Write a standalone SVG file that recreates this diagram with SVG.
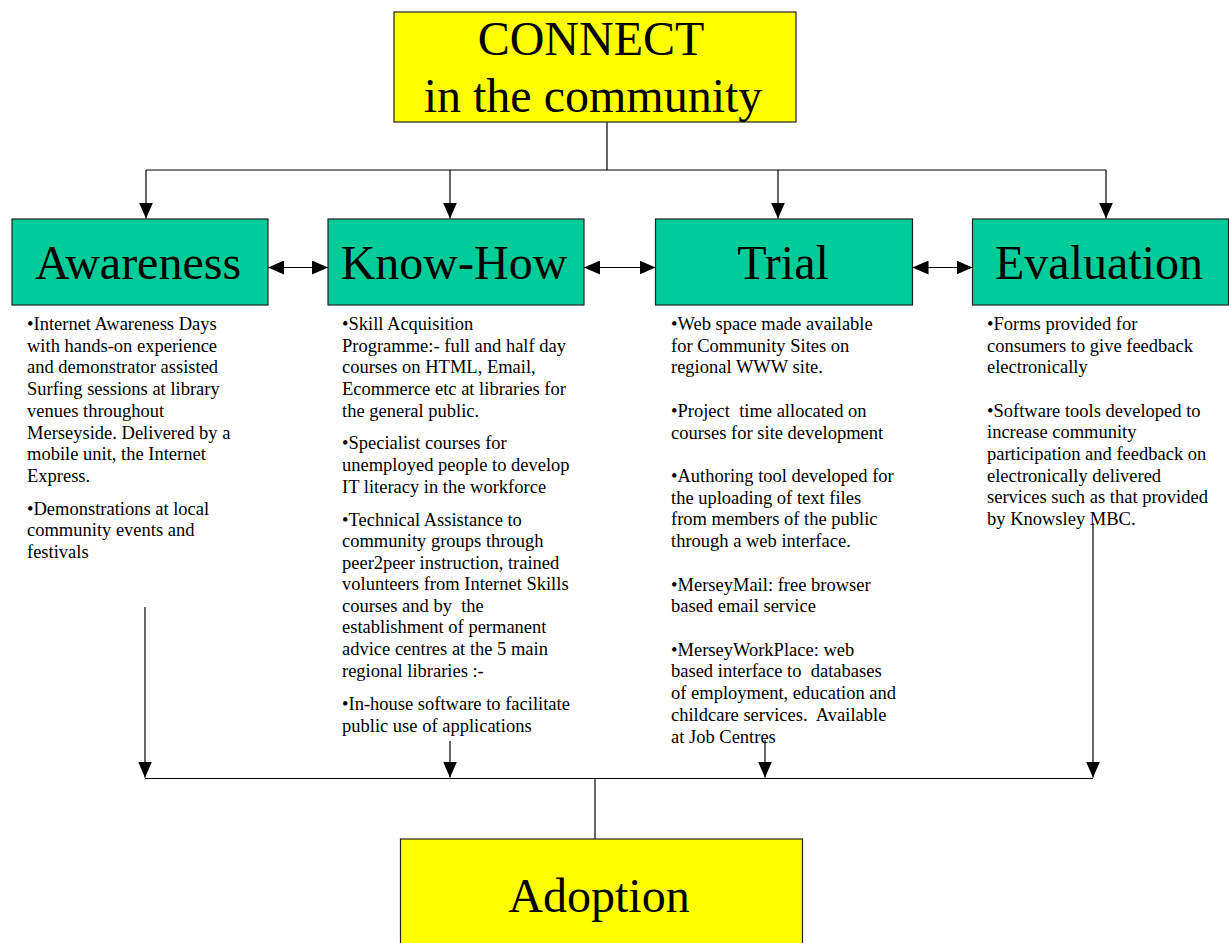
<svg xmlns="http://www.w3.org/2000/svg" width="1229" height="943" viewBox="0 0 1229 943">
<style>
.yel{fill:#FFFF00;stroke:#222;stroke-width:1.2}
.grn{fill:#00CC99;stroke:#222;stroke-width:1.2}
.big{font-family:"Liberation Serif","Times New Roman",serif;font-size:48px;fill:#000;text-anchor:middle}
.body{font-family:"Liberation Serif","Times New Roman",serif;font-size:18.5px;fill:#000;white-space:pre}
.ln{stroke:#000;stroke-width:1.2;fill:none}
</style>
<defs>
<marker id="ah" markerUnits="userSpaceOnUse" markerWidth="16" markerHeight="14" refX="16" refY="7" orient="auto-start-reverse">
<path d="M0,0 L16,7 L0,14 z" fill="#000"/>
</marker>
</defs>
<g id="connectors">
<line class="ln" x1="607" y1="122" x2="607" y2="170"/>
<line class="ln" x1="146" y1="170" x2="1106" y2="170"/>
<line class="ln" x1="146" y1="170" x2="146" y2="218.5" marker-end="url(#ah)"/>
<line class="ln" x1="450" y1="170" x2="450" y2="218.5" marker-end="url(#ah)"/>
<line class="ln" x1="778" y1="170" x2="778" y2="218.5" marker-end="url(#ah)"/>
<line class="ln" x1="1106" y1="170" x2="1106" y2="218.5" marker-end="url(#ah)"/>
<line class="ln" x1="268" y1="267.5" x2="328" y2="267.5" marker-start="url(#ah)" marker-end="url(#ah)"/>
<line class="ln" x1="584" y1="267.5" x2="655.5" y2="267.5" marker-start="url(#ah)" marker-end="url(#ah)"/>
<line class="ln" x1="912.5" y1="267.5" x2="972.5" y2="267.5" marker-start="url(#ah)" marker-end="url(#ah)"/>
<line class="ln" x1="145" y1="607" x2="145" y2="777.5" marker-end="url(#ah)"/>
<line class="ln" x1="450" y1="741" x2="450" y2="777.5" marker-end="url(#ah)"/>
<line class="ln" x1="765" y1="740" x2="765" y2="777.5" marker-end="url(#ah)"/>
<line class="ln" x1="1093" y1="523" x2="1093" y2="777.5" marker-end="url(#ah)"/>
<line class="ln" x1="145" y1="778.5" x2="1093" y2="778.5"/>
<line class="ln" x1="595" y1="778.5" x2="595" y2="839"/>
</g>
<g id="connect">
<rect class="yel" x="394" y="12" width="402" height="110"/>
<text class="big" x="591" y="55">CONNECT</text>
<text class="big" x="593" y="112">in the community</text>
</g>
<g id="awareness">
<rect class="grn" x="12" y="219" width="256" height="86"/>
<text class="big" x="138" y="279">Awareness</text>
<text class="body" x="27"><tspan x="27" y="330">•Internet Awareness Days</tspan><tspan x="27" y="351.7">with hands-on experience</tspan><tspan x="27" y="373.3">and demonstrator assisted</tspan><tspan x="27" y="395">Surfing sessions at library</tspan><tspan x="27" y="416.7">venues throughout</tspan><tspan x="27" y="438.5">Merseyside. Delivered by a</tspan><tspan x="27" y="460.2">mobile unit, the Internet</tspan><tspan x="27" y="482">Express.</tspan><tspan x="27" y="514.7">•Demonstrations at local</tspan><tspan x="27" y="536.4">community events and</tspan><tspan x="27" y="558">festivals</tspan></text>
</g>
<g id="knowhow">
<rect class="grn" x="328" y="219" width="256" height="86"/>
<text class="big" x="454" y="279">Know-How</text>
<text class="body" x="342"><tspan x="342" y="330">•Skill Acquisition</tspan><tspan x="342" y="351.7">Programme:- full and half day</tspan><tspan x="342" y="373.3">courses on HTML, Email,</tspan><tspan x="342" y="395">Ecommerce etc at libraries for</tspan><tspan x="342" y="416.7">the general public.</tspan><tspan x="342" y="449.3">•Specialist courses for</tspan><tspan x="342" y="471">unemployed people to develop</tspan><tspan x="342" y="492.7">IT literacy in the workforce</tspan><tspan x="342" y="525.5">•Technical Assistance to</tspan><tspan x="342" y="547">community groups through</tspan><tspan x="342" y="568.5">peer2peer instruction, trained</tspan><tspan x="342" y="590">volunteers from Internet Skills</tspan><tspan x="342" y="611.7">courses and by  the</tspan><tspan x="342" y="633.3">establishment of permanent</tspan><tspan x="342" y="655">advice centres at the 5 main</tspan><tspan x="342" y="676.7">regional libraries :-</tspan><tspan x="342" y="710">•In-house software to facilitate</tspan><tspan x="342" y="731.7">public use of applications</tspan></text>
</g>
<g id="trial">
<rect class="grn" x="655.5" y="219" width="257" height="86"/>
<text class="big" x="783" y="279">Trial</text>
<text class="body" x="671"><tspan x="671" y="330">•Web space made available</tspan><tspan x="671" y="351.7">for Community Sites on</tspan><tspan x="671" y="373.3">regional WWW site.</tspan><tspan x="671" y="417">•Project  time allocated on</tspan><tspan x="671" y="438.7">courses for site development</tspan><tspan x="671" y="482">•Authoring tool developed for</tspan><tspan x="671" y="503.5">the uploading of text files</tspan><tspan x="671" y="525">from members of the public</tspan><tspan x="671" y="546.7">through a web interface.</tspan><tspan x="671" y="590.5">•MerseyMail: free browser</tspan><tspan x="671" y="612">based email service</tspan><tspan x="671" y="655.7">•MerseyWorkPlace: web</tspan><tspan x="671" y="677.3">based interface to  databases</tspan><tspan x="671" y="699">of employment, education and</tspan><tspan x="671" y="720.7">childcare services.  Available</tspan><tspan x="671" y="742.5">at Job Centres</tspan></text>
</g>
<g id="evaluation">
<rect class="grn" x="972.5" y="219" width="256" height="86"/>
<text class="big" x="1099" y="279">Evaluation</text>
<text class="body" x="987"><tspan x="987" y="330">•Forms provided for</tspan><tspan x="987" y="351.7">consumers to give feedback</tspan><tspan x="987" y="373.3">electronically</tspan><tspan x="987" y="416.7">•Software tools developed to</tspan><tspan x="987" y="438.3">increase community</tspan><tspan x="987" y="460">participation and feedback on</tspan><tspan x="987" y="481.7">electronically delivered</tspan><tspan x="987" y="503.3">services such as that provided</tspan><tspan x="987" y="525">by Knowsley MBC.</tspan></text>
</g>
<g id="adoption">
<rect class="yel" x="400.5" y="839" width="402" height="110"/>
<text class="big" x="599" y="911.5">Adoption</text>
</g>
</svg>
